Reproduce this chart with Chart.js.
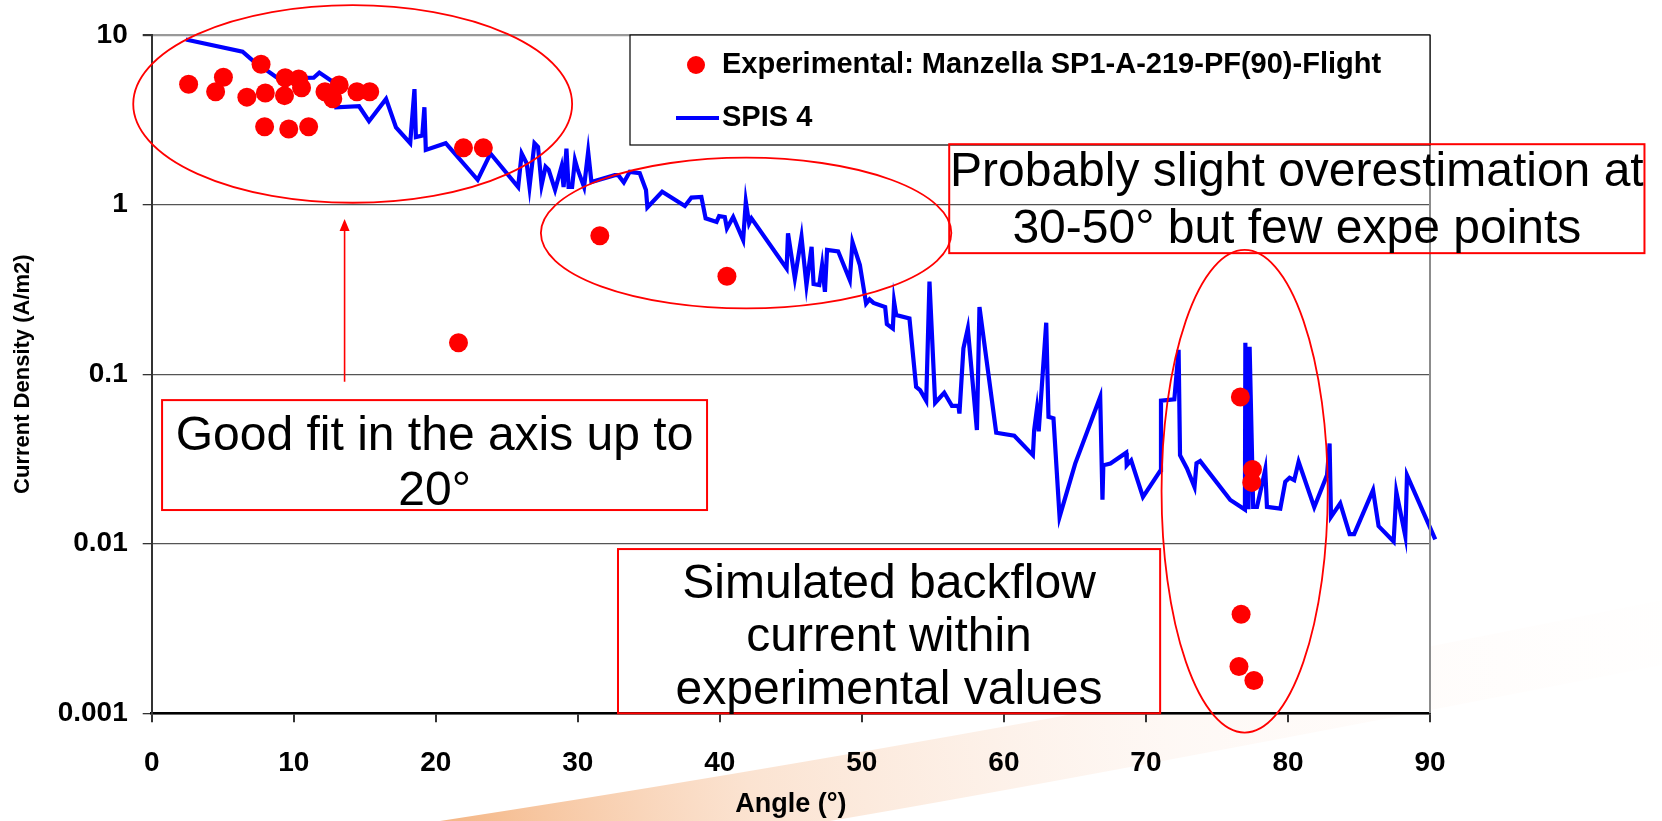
<!DOCTYPE html>
<html lang="en">
<head>
  <meta charset="UTF-8">
  <title>Current Density vs Angle</title>
  <style>
    * { margin: 0; padding: 0; box-sizing: border-box; }
    body { background: #ffffff; width: 1662px; height: 821px; overflow: hidden; }
    .chart-box { position: relative; width: 1662px; height: 821px; }
  </style>
</head>
<body>
  <div class="chart-box">
    <canvas id="densityChart" width="1662" height="821"></canvas>
  </div>

  <script src="https://cdn.jsdelivr.net/npm/chart.js"></script>
  <script>
    // experimental points (angle in deg, current density in A/m2)
    const expAngle = [2.6, 4.5, 5.05, 6.7, 7.7, 8.0, 7.95, 9.4, 9.35, 9.65, 10.35, 10.55, 11.05, 12.2, 12.75, 13.2, 14.45, 15.35,
      21.95, 23.35, 21.6, 31.55, 40.5, 76.65, 77.5, 77.45, 76.7, 76.55, 77.6];
    const expDensity = [5.12, 4.63, 5.63, 4.3, 6.72, 4.55, 2.88, 5.6, 4.39, 2.79, 5.5, 4.89, 2.88, 4.63, 4.21, 5.07, 4.63, 4.63,
      2.16, 2.16, 0.153, 0.655, 0.378, 0.0734, 0.0274, 0.023, 0.00384, 0.00189, 0.00156];

    // SPIS 4 simulation
    const spisAngle = [2.4, 6.4, 7.1, 8.9, 11.4, 11.8, 12.9, 13.0, 14.6, 15.3, 16.5, 17.2, 18.2, 18.5, 18.6, 19.05, 19.2, 19.3,
      20.7, 22.95, 23.85, 25.8, 26.05, 26.4, 26.6, 26.95, 27.2, 27.45, 27.73, 27.95, 28.4, 28.85, 29.0, 29.2, 29.35, 29.6,
      29.8, 30.0, 30.44, 30.73, 30.96, 32.6, 32.85, 33.24, 33.66, 34.36, 34.8, 34.9, 35.94, 37.54, 38.0, 38.7, 39.0, 39.77,
      39.95, 40.35, 40.5, 40.94, 41.64, 41.83, 42.06, 42.23, 44.7, 44.8, 45.28, 45.75, 46.1, 46.46, 46.6, 47.0, 47.2, 47.4,
      47.55, 48.33, 49.15, 49.34, 49.86, 50.3, 50.54, 50.82, 51.64, 51.76, 52.18, 52.27, 52.42, 53.35, 53.82, 54.1, 54.53,
      54.76, 55.16, 55.8, 56.34, 56.8, 56.87, 57.15, 57.46, 58.1, 58.28, 59.46, 60.73, 62.04, 62.13, 62.32, 62.45, 62.98,
      63.14, 63.49, 63.92, 65.02, 66.78, 66.94, 67.0, 67.5, 68.61, 68.65, 68.96, 69.79, 71.04, 71.06, 72.0, 72.3, 72.4,
      72.89, 73.42, 73.56, 73.82, 75.94, 76.97, 77.0, 77.1, 77.17, 77.22, 77.3, 77.55, 77.82, 78.4, 78.52, 79.46, 79.81,
      80.11, 80.44, 80.75, 81.85, 82.75, 82.93, 83.03, 83.68, 84.34, 84.66, 85.99, 86.38, 87.44, 87.63, 88.26, 88.38, 90.37];
    const spisDensity = [9.4, 7.97, 7.1, 5.55, 5.6, 6.0, 5.2, 3.75, 3.8, 3.1, 4.2, 2.85, 2.3, 4.8, 2.5, 2.55, 3.75, 2.1,
      2.3, 1.4, 2.0, 1.27, 2.0, 1.75, 1.27, 2.3, 2.19, 1.3, 1.67, 1.6, 1.22, 1.67, 1.27, 2.14, 1.27, 1.27,
      1.83, 1.6, 1.27, 2.05, 1.36, 1.49, 1.49, 1.35, 1.56, 1.53, 1.22, 0.963, 1.19, 0.98, 1.10, 1.11, 0.83, 0.79,
      0.855, 0.845, 0.724, 0.845, 0.618, 1.04, 0.775, 0.83, 0.42, 0.676, 0.367, 0.646, 0.335, 0.564, 0.34, 0.335, 0.44, 0.306,
      0.54, 0.53, 0.359, 0.60, 0.44, 0.261, 0.276, 0.263, 0.249, 0.197, 0.186, 0.267, 0.223, 0.213, 0.0841, 0.0805, 0.0697,
      0.351, 0.0678, 0.0777, 0.065, 0.065, 0.0586, 0.142, 0.186, 0.0468, 0.249, 0.0451, 0.0433, 0.0333, 0.0468, 0.0619, 0.046, 0.201,
      0.056, 0.0549, 0.0144, 0.0297, 0.0734, 0.0182, 0.029, 0.0297, 0.0344, 0.029, 0.031, 0.0189, 0.0272, 0.0697, 0.071, 0.139, 0.0333,
      0.0278, 0.0216, 0.0298, 0.0307, 0.0181, 0.0159, 0.153, 0.016, 0.11, 0.016, 0.145, 0.0165, 0.0165, 0.0274, 0.0165, 0.0161, 0.0232,
      0.0245, 0.0237, 0.0304, 0.0164, 0.0254, 0.039, 0.0144, 0.0173, 0.0114, 0.0114, 0.0207, 0.0127, 0.0103, 0.0202, 0.0111, 0.0254, 0.0106];

    const yTicks = [0.001, 0.01, 0.1, 1, 10];
    const yTickLabels = ['0.001', '0.01', '0.1', '1', '10'];
    const seriesNames = ['Experimental: Manzella SP1-A-219-PF(90)-Flight', 'SPIS 4'];

    const RED = '#ff0000';
    const BLUE = '#0000ff';
    const FONT = '"Liberation Sans", Arial, sans-serif';

    // callouts, placed in data units (angle, A/m2)
    const ellipses = [
      { x0: -1.3, x1: 29.6, y0: 15.0, y1: 1.025 },
      { x0: 27.4, x1: 56.3, y0: 1.89, y1: 0.244 },
      { x0: 71.1, x1: 82.8, y0: 0.54, y1: 0.00077 }
    ];
    const notes = [
      { x0: 56.15, x1: 105.1, y0: 2.27, y1: 0.517, lines: ['Probably slight overestimation at', '30-50° but few expe points'], first: 29, step: 57 },
      { x0: 0.73, x1: 39.1, y0: 0.0703, y1: 0.0158, lines: ['Good fit in the axis up to', '20°'], first: 37, step: 55 },
      { x0: 32.83, x1: 71.0, y0: 0.0093, y1: 0.001, lines: ['Simulated backflow', 'current within', 'experimental values'], first: 36, step: 53 }
    ];
    const arrow = { x: 13.58, from: 0.0902, to: 0.821 };

    const backdrop = {
      id: 'backdrop',
      beforeDraw(chart) {
        const { ctx, width, height, chartArea: a } = chart;
        ctx.save();
        ctx.fillStyle = '#ffffff';
        ctx.fillRect(0, 0, width, height);
        // pale orange swoosh at the bottom of the slide
        const g = ctx.createLinearGradient(440, 821, 1662, 610);
        g.addColorStop(0, 'rgba(240,150,80,0.7)');
        g.addColorStop(0.25, 'rgba(245,185,140,0.4)');
        g.addColorStop(0.6, 'rgba(250,222,205,0.2)');
        g.addColorStop(1, 'rgba(255,242,236,0.05)');
        ctx.fillStyle = g;
        ctx.beginPath();
        ctx.moveTo(440, 821);
        ctx.quadraticCurveTo(1000, 735, 1662, 600);
        ctx.lineTo(1662, 665);
        ctx.quadraticCurveTo(1100, 775, 830, 821);
        ctx.closePath();
        ctx.fill();
        ctx.fillStyle = '#ffffff';
        ctx.fillRect(a.left, a.top, a.right - a.left, a.bottom - a.top);
        ctx.restore();
      }
    };

    const callouts = {
      id: 'callouts',
      afterDatasetsDraw(chart) {
        const { ctx, chartArea: a, scales: { x, y } } = chart;
        const px = v => x.getPixelForValue(v);
        const py = v => y.getPixelForValue(v);
        ctx.save();

        // right frame of the plot
        ctx.strokeStyle = '#8c8c8c';
        ctx.lineWidth = 2;
        ctx.beginPath();
        ctx.moveTo(a.right, a.top);
        ctx.lineTo(a.right, a.bottom);
        ctx.stroke();

        // legend box
        const lx = a.right - 800, ly = a.top;
        ctx.fillStyle = '#ffffff';
        ctx.fillRect(lx, ly, 800, 110);
        ctx.strokeStyle = '#000000';
        ctx.lineWidth = 1.2;
        ctx.strokeRect(lx, ly, 800, 110);
        ctx.fillStyle = RED;
        ctx.beginPath();
        ctx.arc(lx + 66, ly + 30, 9, 0, Math.PI * 2);
        ctx.fill();
        ctx.strokeStyle = BLUE;
        ctx.lineWidth = 4;
        ctx.beginPath();
        ctx.moveTo(lx + 46, ly + 83);
        ctx.lineTo(lx + 89, ly + 83);
        ctx.stroke();
        ctx.fillStyle = '#000000';
        ctx.font = 'bold 29px ' + FONT;
        ctx.textBaseline = 'middle';
        ctx.textAlign = 'left';
        ctx.fillText(seriesNames[0], lx + 92, ly + 30);
        ctx.fillText(seriesNames[1], lx + 92, ly + 83);

        // ellipses
        ctx.strokeStyle = RED;
        ctx.lineWidth = 1.8;
        ellipses.forEach(e => {
          const l = px(e.x0), r = px(e.x1), t = py(e.y0), b = py(e.y1);
          ctx.beginPath();
          ctx.ellipse((l + r) / 2, (t + b) / 2, (r - l) / 2, (b - t) / 2, 0, 0, Math.PI * 2);
          ctx.stroke();
        });

        // boxed notes
        ctx.font = '48px ' + FONT;
        ctx.textAlign = 'center';
        notes.forEach(n => {
          const l = px(n.x0), r = Math.min(px(n.x1), chart.width - 17), t = py(n.y0), b = py(n.y1);
          ctx.strokeStyle = RED;
          ctx.lineWidth = 2;
          ctx.strokeRect(l, t, r - l, b - t);
          ctx.fillStyle = '#000000';
          n.lines.forEach((s, i) => ctx.fillText(s, (l + r) / 2, t + n.first + i * n.step));
        });

        // arrow
        const ax = px(arrow.x), ay0 = py(arrow.from), ay1 = py(arrow.to);
        ctx.strokeStyle = RED;
        ctx.fillStyle = RED;
        ctx.lineWidth = 1.6;
        ctx.beginPath();
        ctx.moveTo(ax, ay0);
        ctx.lineTo(ax, ay1 + 10);
        ctx.stroke();
        ctx.beginPath();
        ctx.moveTo(ax, ay1);
        ctx.lineTo(ax - 5, ay1 + 12);
        ctx.lineTo(ax + 5, ay1 + 12);
        ctx.closePath();
        ctx.fill();

        ctx.restore();
      }
    };

    Chart.defaults.font.family = FONT;
    Chart.defaults.color = '#000000';

    const ctx = document.getElementById('densityChart').getContext('2d');
    new Chart(ctx, {
      type: 'scatter',
      data: {
        datasets: [
          {
            label: seriesNames[0],
            data: expAngle.map((a, i) => ({ x: a, y: expDensity[i] })),
            backgroundColor: RED,
            borderWidth: 0,
            pointRadius: 9.5,
            pointHoverRadius: 9.5
          },
          {
            label: seriesNames[1],
            data: spisAngle.map((a, i) => ({ x: a, y: spisDensity[i] })),
            showLine: true,
            borderColor: BLUE,
            borderWidth: 4.2,
            pointRadius: 0,
            tension: 0,
            clip: false
          }
        ]
      },
      options: {
        responsive: false,
        animation: false,
        layout: { padding: { left: 0, right: 232, top: 35, bottom: 0 } },
        plugins: {
          legend: { display: false },
          tooltip: { enabled: false }
        },
        scales: {
          x: {
            type: 'linear',
            min: 0,
            max: 90,
            afterFit: s => { s.height = 107.7; },
            ticks: { stepSize: 10, padding: 24, font: { size: 28, weight: 'bold' }, color: '#000' },
            grid: { drawOnChartArea: false, drawTicks: true, tickLength: 9, tickColor: '#333', lineWidth: 2 },
            border: { color: '#000', width: 2.5 },
            title: { display: true, text: 'Angle (°)', font: { size: 27, weight: 'bold' }, padding: { top: 0, bottom: 0 } }
          },
          y: {
            type: 'logarithmic',
            min: 0.001,
            max: 10,
            afterFit: s => { s.width = 151.7; },
            afterBuildTicks: s => { s.ticks = yTicks.map(v => ({ value: v })); },
            ticks: {
              padding: 15,
              font: { size: 28, weight: 'bold' },
              color: '#000',
              callback: v => yTickLabels[yTicks.indexOf(v)]
            },
            grid: {
              color: c => c.tick && c.tick.value === 10 ? '#999999' : '#555555',
              lineWidth: c => c.tick && c.tick.value === 10 ? 2.2 : 1.3,
              tickLength: 9,
              tickColor: '#333'
            },
            border: { color: '#333', width: 2 },
            title: { display: true, text: 'Current Density (A/m2)', font: { size: 22, weight: 'bold' }, padding: { top: 10, bottom: 0 } }
          }
        }
      },
      plugins: [backdrop, callouts]
    });
  </script>
</body>
</html>
